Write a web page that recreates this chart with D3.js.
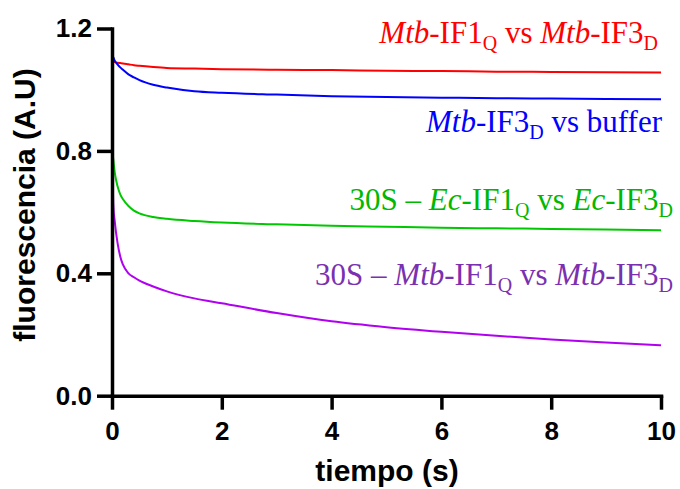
<!DOCTYPE html>
<html>
<head>
<meta charset="utf-8">
<script src="https://cdn.jsdelivr.net/npm/d3@7"></script>
<style>
  html, body { margin: 0; padding: 0; background: #fff; }
  svg { display: block; }
</style>
</head>
<body>
<svg id="chart" width="680" height="489"></svg>
<script>
// Sampling times (s)
const times = [0, 0.01, 0.025, 0.05, 0.1, 0.15, 0.2, 0.3, 0.4, 0.5, 0.75, 1, 1.5, 2, 3, 4, 5, 6, 7, 8, 9, 10];

// Fluorescence traces (A.U)
const mtbIF1vsIF3 = [1.13, 1.10, 1.095, 1.09, 1.088, 1.087, 1.086, 1.083, 1.080, 1.078, 1.074, 1.071, 1.069, 1.067, 1.065, 1.064, 1.062, 1.061, 1.059, 1.058, 1.057, 1.056];
const mtbIF3vsBuffer = [1.12, 1.11, 1.105, 1.095, 1.083, 1.073, 1.065, 1.050, 1.040, 1.031, 1.016, 1.007, 0.995, 0.990, 0.984, 0.979, 0.976, 0.974, 0.972, 0.971, 0.970, 0.969];
const ec30S = [1.05, 0.80, 0.77, 0.73, 0.685, 0.658, 0.642, 0.620, 0.605, 0.596, 0.584, 0.578, 0.571, 0.566, 0.560, 0.555, 0.552, 0.549, 0.547, 0.545, 0.543, 0.541];
const mtb30S = [1.13, 0.78, 0.62, 0.57, 0.50, 0.455, 0.428, 0.400, 0.387, 0.376, 0.357, 0.341, 0.318, 0.302, 0.270, 0.243, 0.224, 0.209, 0.196, 0.184, 0.174, 0.165];

// Axis ticks
const xTicks = [0, 2, 4, 6, 8, 10];
const yTicks = [0.0, 0.4, 0.8, 1.2];

const svg = d3.select("#chart");
const margin = { left: 112, top: 28.5 };
const width = 549, height = 367.2;

const x = d3.scaleLinear().domain([0, 10]).range([0, width]);
const y = d3.scaleLinear().domain([0, 1.2]).range([height, 0]);

const g = svg.append("g").attr("transform", `translate(${margin.left},${margin.top})`);

const series = [
  { values: mtbIF1vsIF3, color: "#ff0000" },
  { values: mtbIF3vsBuffer, color: "#0000ff" },
  { values: ec30S, color: "#00c800" },
  { values: mtb30S, color: "#b000f0" }
];

const line = d3.line()
  .x(d => x(d[0]))
  .y(d => y(d[1]))
  .curve(d3.curveMonotoneX);

g.selectAll("path.trace")
  .data(series)
  .join("path")
  .attr("class", "trace")
  .attr("fill", "none")
  .attr("stroke", d => d.color)
  .attr("stroke-width", 2)
  .attr("d", d => line(times.map((t, i) => [t, d.values[i]])));

// Axes
const xAxis = g.append("g")
  .attr("transform", `translate(0,${height})`)
  .call(d3.axisBottom(x).tickValues(xTicks).tickFormat(d3.format("d")).tickSize(14).tickSizeOuter(0).tickPadding(12));
const yAxis = g.append("g")
  .call(d3.axisLeft(y).tickValues(yTicks).tickFormat(d3.format(".1f")).tickSize(15).tickSizeOuter(0).tickPadding(5));

[xAxis, yAxis].forEach(ax => {
  ax.selectAll("path, line").attr("stroke", "#000").attr("stroke-width", 3.5);
  ax.selectAll("text")
    .attr("fill", "#000")
    .style("font-family", "'Liberation Sans', Arial, sans-serif")
    .style("font-weight", "bold")
    .style("font-size", "26px");
});
xAxis.select(".domain").attr("stroke-linecap", "square");
yAxis.select(".domain").attr("stroke-linecap", "square");

// Axis titles
svg.append("text")
  .attr("x", 387).attr("y", 481)
  .attr("text-anchor", "middle")
  .style("font-family", "'Liberation Sans', Arial, sans-serif")
  .style("font-weight", "bold")
  .style("font-size", "30px")
  .text("tiempo (s)");

svg.append("text")
  .attr("transform", "translate(35,205) rotate(-90)")
  .attr("text-anchor", "middle")
  .style("font-family", "'Liberation Sans', Arial, sans-serif")
  .style("font-weight", "bold")
  .style("font-size", "30px")
  .text("fluorescencia (A.U)");

// Series labels: parts are [text, style] with style "i" italic, "s" subscript
const labels = [
  { x: 658, y: 43, color: "#ff0000",
    parts: [["Mtb", "i"], ["-IF1", ""], ["Q", "s"], [" vs ", ""], ["Mtb", "i"], ["-IF3", ""], ["D", "s"]] },
  { x: 662, y: 132, color: "#0000ff",
    parts: [["Mtb", "i"], ["-IF3", ""], ["D", "s"], [" vs buffer", ""]] },
  { x: 673, y: 210, color: "#00b800",
    parts: [["30S \u2013 ", ""], ["Ec", "i"], ["-IF1", ""], ["Q", "s"], [" vs ", ""], ["Ec", "i"], ["-IF3", ""], ["D", "s"]] },
  { x: 673, y: 285, color: "#7a30b0",
    parts: [["30S \u2013 ", ""], ["Mtb", "i"], ["-IF1", ""], ["Q", "s"], [" vs ", ""], ["Mtb", "i"], ["-IF3", ""], ["D", "s"]] }
];

const subShift = 7;
labels.forEach(lb => {
  const t = svg.append("text")
    .attr("x", lb.x).attr("y", lb.y)
    .attr("text-anchor", "end")
    .attr("fill", lb.color)
    .style("font-family", "'Liberation Serif', 'Times New Roman', serif")
    .style("font-size", "31px");
  let shifted = false;
  lb.parts.forEach(([txt, st]) => {
    const ts = t.append("tspan").text(txt);
    if (st === "i") ts.style("font-style", "italic");
    if (st === "s") {
      ts.attr("dy", shifted ? 0 : subShift).style("font-size", "20px");
      shifted = true;
    } else {
      if (shifted) { ts.attr("dy", -subShift); shifted = false; }
    }
  });
});
</script>
</body>
</html>
